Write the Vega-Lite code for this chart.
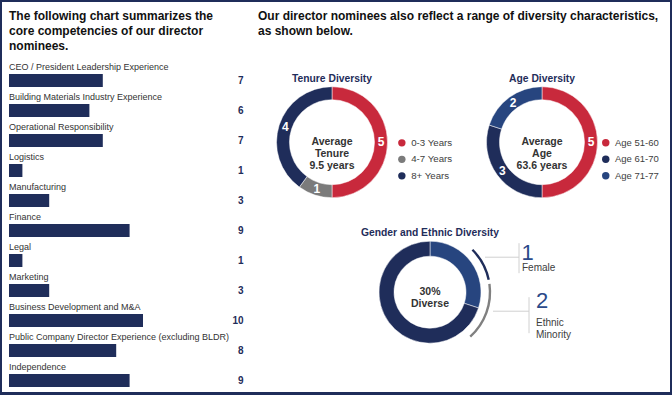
{
  "$schema": "https://vega.github.io/schema/vega-lite/v6.json",
  "background": "#1f2d5a",
  "padding": {"left": 2, "top": 1, "right": 1, "bottom": 2},
  "config": {"font": "Liberation Sans", "view": {"stroke": null, "fill": "white"}},
  "datasets": {
    "competencies": [
      {"competency": "CEO / President Leadership Experience", "count": 7},
      {"competency": "Building Materials Industry Experience", "count": 6},
      {"competency": "Operational Responsibility", "count": 7},
      {"competency": "Logistics", "count": 1},
      {"competency": "Manufacturing", "count": 3},
      {"competency": "Finance", "count": 9},
      {"competency": "Legal", "count": 1},
      {"competency": "Marketing", "count": 3},
      {"competency": "Business Development and M&A", "count": 10},
      {"competency": "Public Company Director Experience (excluding BLDR)", "count": 8},
      {"competency": "Independence", "count": 9}
    ],
    "tenure": [
      {"range": "0-3 Years", "count": 5, "k": 1},
      {"range": "4-7 Years", "count": 1, "k": 2},
      {"range": "8+ Years", "count": 4, "k": 3}
    ],
    "age": [
      {"age": "Age 51-60", "count": 5, "k": 1},
      {"age": "Age 61-70", "count": 3, "k": 2},
      {"age": "Age 71-77", "count": 2, "k": 3}
    ],
    "diversity": [
      {"group": "Diverse", "count": 3, "k": 1},
      {"group": "Not diverse", "count": 7, "k": 2}
    ],
    "outer": [
      {"key": "female", "label": "Female", "count": 1},
      {"key": "ethnic", "label": "Ethnic\nMinority", "count": 2}
    ]
  },
  "spacing": 0,
  "bounds": "flush",
  "resolve": {"scale": {"x": "independent", "y": "independent", "color": "independent", "theta": "independent"}},
  "hconcat": [
    {
      "width": 248,
      "height": 390,
      "title": {"text": ["The following chart summarizes the", "core competencies of our director", "nominees."], "anchor": "start", "frame": "group", "fontSize": 12, "fontWeight": "bold", "color": "#111111", "lineHeight": 15, "offset": -51, "dx": 7},
      "data": {"name": "competencies"},
      "encoding": {
        "y": {"field": "competency", "type": "nominal", "sort": null, "axis": null, "scale": {"range": [63.5, 393.5], "paddingInner": 0, "paddingOuter": 0}}
      },
      "layer": [
        {
          "mark": {"type": "bar", "height": 13, "color": "#1f2d5a"},
          "encoding": {"x": {"field": "count", "type": "quantitative", "axis": null, "scale": {"domain": [0, 17.5], "range": [7, 241.5], "nice": false}}}
        },
        {
          "mark": {"type": "text", "align": "left", "baseline": "middle", "dy": -13.5, "fontSize": 9, "color": "#333333"},
          "encoding": {"x": {"datum": 0}, "text": {"field": "competency"}}
        },
        {
          "mark": {"type": "text", "align": "right", "baseline": "middle", "fontSize": 10, "fontWeight": "bold", "color": "#1f2d5a"},
          "encoding": {"x": {"datum": 17.5}, "text": {"field": "count"}}
        }
      ]
    },
    {
      "spacing": 0,
      "bounds": "flush",
      "resolve": {"scale": {"x": "independent", "y": "independent", "color": "independent", "theta": "independent"}},
      "vconcat": [
        {
          "width": 420,
          "height": 196,
          "view": {"fill": "white", "stroke": "white", "strokeWidth": 2, "strokeDash": [0, 1036, 196, 0]},
          "title": {"text": ["Our director nominees also reflect a range of diversity characteristics,", "as shown below."], "anchor": "start", "frame": "group", "fontSize": 12, "fontWeight": "bold", "color": "#111111", "lineHeight": 15, "offset": -36, "dx": 8},
          "resolve": {"scale": {"x": "independent", "y": "independent", "color": "independent", "theta": "independent"}, "legend": {"color": "independent"}},
          "layer": [
            {
              "data": {"name": "tenure"},
              "encoding": {
                "x": {"datum": 0, "scale": {"domain": [-82, 338], "nice": false, "zero": false}, "axis": null},
                "y": {"datum": 0, "scale": {"domain": [-140.2, 55.8], "reverse": true, "nice": false, "zero": false}, "axis": null}
              },
              "layer": [
                {
                  "mark": {"type": "arc", "outerRadius": 55.5, "innerRadius": 42.5, "stroke": "white", "strokeWidth": 0.5},
                  "encoding": {
                    "theta": {"field": "count", "type": "quantitative", "stack": true},
                    "order": {"field": "k", "type": "quantitative"},
                    "color": {"field": "range", "type": "nominal",
                      "scale": {"domain": ["0-3 Years", "4-7 Years", "8+ Years"], "range": ["#c8293c", "#7b7b7b", "#1f2d5a"]},
                      "legend": {"orient": "none", "direction": "vertical", "legendX": 147, "legendY": 136, "title": null, "symbolType": "circle", "symbolSize": 55, "symbolStrokeWidth": 0, "symbolOpacity": 1, "labelFontSize": 9.7, "labelColor": "#404040", "labelFont": "Liberation Sans", "rowPadding": 5.5, "labelOffset": 4.5, "padding": 0}}
                  }
                },
                {
                  "mark": {"type": "text", "radius": 49, "fontSize": 12, "fontWeight": "bold", "color": "white"},
                  "encoding": {
                    "theta": {"field": "count", "type": "quantitative", "stack": true},
                    "order": {"field": "k", "type": "quantitative"},
                    "text": {"field": "count"}
                  }
                },
                {
                  "data": {"values": [{"center": "Average\nTenure\n9.5 years"}]},
                  "mark": {"type": "text", "lineBreak": "\n", "fontSize": 10.5, "fontWeight": "bold", "lineHeight": 12, "color": "#333333"},
                  "encoding": {"text": {"field": "center"}}
                },
                {
                  "data": {"values": [{"heading": "Tenure Diversity"}]},
                  "mark": {"type": "text", "fontSize": 10.3, "fontWeight": "bold", "color": "#1f2d5a"},
                  "encoding": {
                    "y": {"datum": -63, "scale": {"domain": [-140.2, 55.8], "reverse": true, "nice": false, "zero": false}, "axis": null},
                    "text": {"field": "heading"}
                  }
                }
              ]
            },
            {
              "data": {"name": "age"},
              "encoding": {
                "x": {"datum": 0, "scale": {"domain": [-292, 128], "nice": false, "zero": false}, "axis": null},
                "y": {"datum": 0, "scale": {"domain": [-140.2, 55.8], "reverse": true, "nice": false, "zero": false}, "axis": null}
              },
              "layer": [
                {
                  "mark": {"type": "arc", "outerRadius": 55.5, "innerRadius": 42.5, "stroke": "white", "strokeWidth": 0.5},
                  "encoding": {
                    "theta": {"field": "count", "type": "quantitative", "stack": true},
                    "order": {"field": "k", "type": "quantitative"},
                    "color": {"field": "age", "type": "nominal",
                      "scale": {"domain": ["Age 51-60", "Age 61-70", "Age 71-77"], "range": ["#c8293c", "#1f2d5a", "#27457f"]},
                      "legend": {"orient": "none", "direction": "vertical", "legendX": 351, "legendY": 136, "title": null, "symbolType": "circle", "symbolSize": 55, "symbolStrokeWidth": 0, "symbolOpacity": 1, "labelFontSize": 9.5, "labelColor": "#404040", "labelFont": "Liberation Sans", "rowPadding": 5.5, "labelOffset": 4.5, "padding": 0}}
                  }
                },
                {
                  "mark": {"type": "text", "radius": 49, "fontSize": 12, "fontWeight": "bold", "color": "white"},
                  "encoding": {
                    "theta": {"field": "count", "type": "quantitative", "stack": true},
                    "order": {"field": "k", "type": "quantitative"},
                    "text": {"field": "count"}
                  }
                },
                {
                  "data": {"values": [{"center": "Average\nAge\n63.6 years"}]},
                  "mark": {"type": "text", "lineBreak": "\n", "fontSize": 10.5, "fontWeight": "bold", "lineHeight": 12, "color": "#333333"},
                  "encoding": {"text": {"field": "center"}}
                },
                {
                  "data": {"values": [{"heading": "Age Diversity"}]},
                  "mark": {"type": "text", "fontSize": 10.3, "fontWeight": "bold", "color": "#1f2d5a"},
                  "encoding": {
                    "y": {"datum": -63, "scale": {"domain": [-140.2, 55.8], "reverse": true, "nice": false, "zero": false}, "axis": null},
                    "text": {"field": "heading"}
                  }
                }
              ]
            }
          ]
        },
        {
          "width": 420,
          "height": 194,
          "view": {"fill": "white", "stroke": "white", "strokeWidth": 2, "strokeDash": [0, 1034, 194, 0]},
          "encoding": {
            "x": {"datum": 0, "scale": {"domain": [-180, 240], "nice": false, "zero": false}, "axis": null},
            "y": {"datum": 0, "scale": {"domain": [-94.2, 99.8], "reverse": true, "nice": false, "zero": false}, "axis": null}
          },
          "layer": [
            {
              "data": {"name": "diversity"},
              "mark": {"type": "arc", "outerRadius": 51, "innerRadius": 36, "stroke": "white", "strokeWidth": 0.5},
              "encoding": {
                "theta": {"field": "count", "type": "quantitative", "stack": true, "scale": {"domain": [0, 10]}},
                "order": {"field": "k", "type": "quantitative"},
                "color": {"field": "group", "type": "nominal", "scale": {"domain": ["Diverse", "Not diverse"], "range": ["#27457f", "#1f2d5a"]}, "legend": null}
              }
            },
            {
              "data": {"values": [{"center": "30%\nDiverse"}]},
              "mark": {"type": "text", "lineBreak": "\n", "fontSize": 10.5, "fontWeight": "bold", "lineHeight": 12, "color": "#333333"},
              "encoding": {"text": {"field": "center"}}
            },
            {
              "data": {"values": [{"heading": "Gender and Ethnic Diversity"}]},
              "mark": {"type": "text", "fontSize": 10.3, "fontWeight": "bold", "color": "#1f2d5a"},
              "encoding": {"y": {"datum": -59}, "text": {"field": "heading"}}
            },
            {
              "data": {"name": "outer"},
              "transform": [{"filter": "datum.key == 'female'"}],
              "mark": {"type": "arc", "outerRadius": 61.2, "innerRadius": 58.8, "color": "#1f2d5a"},
              "encoding": {"theta": {"datum": 1.25}, "theta2": {"datum": 2.17}}
            },
            {
              "data": {"name": "outer"},
              "transform": [{"filter": "datum.key == 'ethnic'"}],
              "mark": {"type": "arc", "outerRadius": 61.2, "innerRadius": 58.8, "color": "#808080"},
              "encoding": {"theta": {"datum": 2.28}, "theta2": {"datum": 3.83}}
            },
            {
              "data": {"name": "outer"},
              "transform": [{"filter": "datum.key == 'female'"}],
              "mark": {"type": "rule", "color": "#d0d0d0", "strokeWidth": 1},
              "encoding": {"x": {"datum": 55}, "x2": {"datum": 89}, "y": {"datum": -35}}
            },
            {
              "data": {"name": "outer"},
              "transform": [{"filter": "datum.key == 'female'"}],
              "mark": {"type": "rule", "color": "#d0d0d0", "strokeWidth": 1},
              "encoding": {"x": {"datum": 89}, "y": {"datum": -49}, "y2": {"datum": -19}}
            },
            {
              "data": {"name": "outer"},
              "transform": [{"filter": "datum.key == 'ethnic'"}],
              "mark": {"type": "rule", "color": "#d0d0d0", "strokeWidth": 1},
              "encoding": {"x": {"datum": 63}, "x2": {"datum": 99}, "y": {"datum": 19}}
            },
            {
              "data": {"name": "outer"},
              "transform": [{"filter": "datum.key == 'ethnic'"}],
              "mark": {"type": "rule", "color": "#d0d0d0", "strokeWidth": 1},
              "encoding": {"x": {"datum": 99}, "y": {"datum": 5}, "y2": {"datum": 41}}
            },
            {
              "data": {"name": "outer"},
              "transform": [{"filter": "datum.key == 'female'"}],
              "mark": {"type": "text", "align": "left", "baseline": "middle", "fontSize": 22, "color": "#2b4a8a"},
              "encoding": {"x": {"datum": 91.5}, "y": {"datum": -39.5}, "text": {"field": "count"}}
            },
            {
              "data": {"name": "outer"},
              "transform": [{"filter": "datum.key == 'female'"}],
              "mark": {"type": "text", "align": "left", "baseline": "middle", "fontSize": 10, "color": "#404040"},
              "encoding": {"x": {"datum": 92}, "y": {"datum": -24}, "text": {"field": "label"}}
            },
            {
              "data": {"name": "outer"},
              "transform": [{"filter": "datum.key == 'ethnic'"}],
              "mark": {"type": "text", "align": "left", "baseline": "middle", "fontSize": 22, "color": "#2b4a8a"},
              "encoding": {"x": {"datum": 106}, "y": {"datum": 8.5}, "text": {"field": "count"}}
            },
            {
              "data": {"name": "outer"},
              "transform": [{"filter": "datum.key == 'ethnic'"}],
              "mark": {"type": "text", "align": "left", "baseline": "middle", "fontSize": 10, "lineHeight": 12, "lineBreak": "\n", "color": "#404040"},
              "encoding": {"x": {"datum": 106}, "y": {"datum": 31}, "text": {"field": "label"}}
            }
          ]
        }
      ]
    }
  ]
}
